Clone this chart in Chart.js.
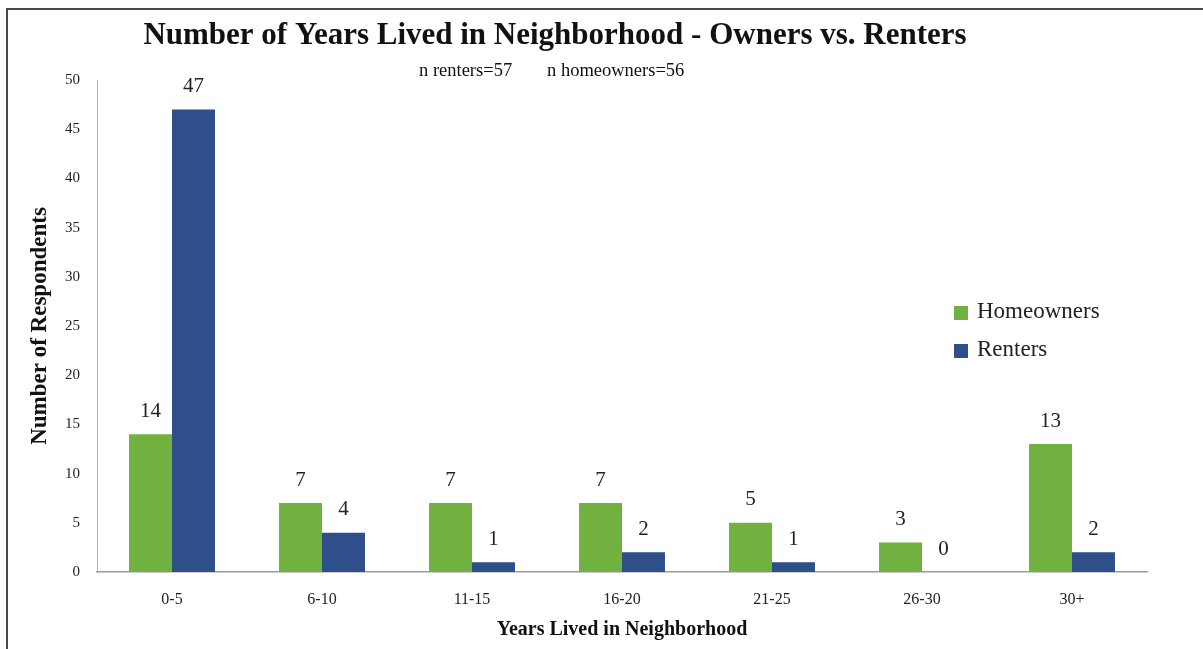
<!DOCTYPE html>
<html>
<head>
<meta charset="utf-8">
<script src="https://cdn.jsdelivr.net/npm/chart.js@4.4.1/dist/chart.umd.min.js"></script>
<style>
  html, body { margin: 0; padding: 0; background: #fff; overflow: hidden; }
  #frame {
    position: absolute; left: 6px; top: 8px; width: 1210px; height: 700px;
    border: 2px solid #4a4a4a; box-sizing: border-box;
  }
  #wrap { position: absolute; left: 0; top: 0; width: 1203px; height: 649px; }
</style>
</head>
<body>
<div id="frame"></div>
<div id="wrap"><canvas id="chart" width="1203" height="649"></canvas></div>
<script>
// Categories and counts
const categories = ['0-5', '6-10', '11-15', '16-20', '21-25', '26-30', '30+'];
const homeowners = [14, 7, 7, 7, 5, 3, 13];
const renters = [47, 4, 1, 2, 1, 0, 2];
const yTicks = [0, 5, 10, 15, 20, 25, 30, 35, 40, 45, 50];

const chartTitle = 'Number of Years Lived in Neighborhood - Owners vs. Renters';
const subRenters = 'n renters=57';
const subOwners = 'n homeowners=56';

const SERIF = '"Liberation Serif", "DejaVu Serif", serif';

// Title and subtitle text above the plot
const headerPlugin = {
  id: 'header',
  afterDraw(chart) {
    const ctx = chart.ctx;
    ctx.save();
    ctx.fillStyle = '#111';
    ctx.textBaseline = 'middle';
    ctx.textAlign = 'center';
    ctx.font = 'bold 31px ' + SERIF;
    ctx.fillText(chartTitle, 555, 36);
    ctx.textAlign = 'left';
    ctx.font = '18.5px ' + SERIF;
    ctx.fillText(subRenters, 419, 71);
    ctx.fillText(subOwners, 547, 71);
    ctx.restore();
  }
};

// Value labels above each bar
const valueLabels = {
  id: 'valueLabels',
  afterDatasetsDraw(chart) {
    const ctx = chart.ctx;
    ctx.save();
    ctx.fillStyle = '#222';
    ctx.textAlign = 'center';
    ctx.textBaseline = 'middle';
    ctx.font = '21px ' + SERIF;
    chart.data.datasets.forEach((ds, i) => {
      chart.getDatasetMeta(i).data.forEach((bar, j) => {
        ctx.fillText(String(ds.data[j]), bar.x, bar.y - 23);
      });
    });
    ctx.restore();
  }
};

// Legend drawn inside the plot on the right
const insideLegend = {
  id: 'insideLegend',
  afterDraw(chart) {
    const ctx = chart.ctx;
    ctx.save();
    ctx.textAlign = 'left';
    ctx.textBaseline = 'middle';
    ctx.font = '23px ' + SERIF;
    chart.data.datasets.forEach((ds, i) => {
      const y = 312 + i * 38;
      ctx.fillStyle = ds.backgroundColor;
      ctx.fillRect(954, y - 6, 14, 14);
      ctx.fillStyle = '#222';
      ctx.fillText(ds.label, 977, y);
    });
    ctx.restore();
  }
};

new Chart(document.getElementById('chart'), {
  type: 'bar',
  data: {
    labels: categories,
    datasets: [
      {
        label: 'Homeowners',
        data: homeowners,
        backgroundColor: '#70B13F',
        categoryPercentage: 0.573,
        barPercentage: 1
      },
      {
        label: 'Renters',
        data: renters,
        backgroundColor: '#2F4F8B',
        categoryPercentage: 0.573,
        barPercentage: 1
      }
    ]
  },
  options: {
    responsive: false,
    animation: false,
    layout: { padding: { top: 80, right: 56, left: 0, bottom: 0 } },
    plugins: {
      legend: { display: false },
      tooltip: { enabled: false }
    },
    scales: {
      x: {
        grid: { display: false, drawTicks: false },
        border: { display: true, color: '#9a9a9a', width: 1.5 },
        ticks: { color: '#222', padding: 18, font: { family: SERIF, size: 16 } },
        title: {
          display: true,
          text: 'Years Lived in Neighborhood',
          color: '#111',
          font: { family: SERIF, size: 20, weight: 'bold' },
          padding: { top: 0, bottom: 7 }
        },
        afterFit(scale) { scale.height = 77; }
      },
      y: {
        min: 0,
        max: 50,
        afterBuildTicks(scale) { scale.ticks = yTicks.map(v => ({ value: v })); },
        grid: { display: false, drawTicks: false },
        border: { display: true, color: '#b0b0b0', width: 1 },
        ticks: { color: '#222', padding: 17, font: { family: SERIF, size: 15 } },
        title: {
          display: true,
          text: 'Number of Respondents',
          color: '#111',
          font: { family: SERIF, size: 23, weight: 'bold' },
          padding: { top: 26, bottom: 0 }
        },
        afterFit(scale) { scale.width = 97; }
      }
    }
  },
  plugins: [headerPlugin, valueLabels, insideLegend]
});
</script>
</body>
</html>
